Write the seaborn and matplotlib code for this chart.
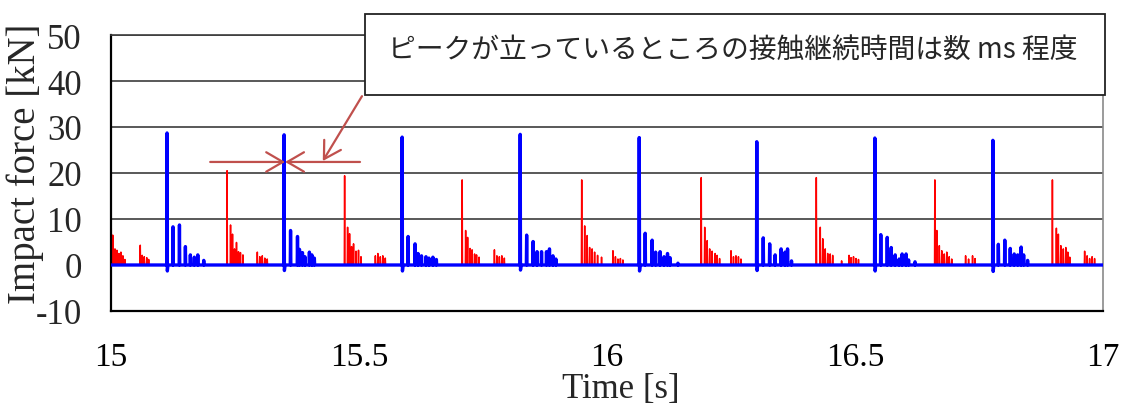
import matplotlib
matplotlib.use("Agg")
import matplotlib.pyplot as plt
import seaborn as sns
import pandas as pd
from matplotlib.patches import Rectangle

# ---------------- data ----------------
# Blue series: main impact peaks, their negative dip, and secondary rebounds
blue_main_t = [15.113, 15.349, 15.587, 15.825, 16.065, 16.302, 16.540, 16.778]
blue_main_h = [28.7, 28.3, 27.8, 28.4, 27.7, 26.8, 27.6, 27.1]
blue_dip_h = [-1.3, -1.2, -1.3, -1.1, -1.3, -1.2, -1.3, -1.4]
blue_sub_t = [15.125, 15.138, 15.150, 15.160, 15.168, 15.175, 15.187,
              15.362, 15.376, 15.380, 15.386, 15.391, 15.400, 15.405, 15.410,
              15.599, 15.613, 15.619, 15.626, 15.635, 15.641, 15.649, 15.656,
              15.838, 15.851, 15.859, 15.868, 15.878, 15.884, 15.891, 15.897,
              16.077, 16.091, 16.098, 16.107, 16.115, 16.122, 16.127, 16.143,
              16.315, 16.328, 16.339, 16.351, 16.359, 16.364, 16.372,
              16.552, 16.565, 16.573, 16.581, 16.589, 16.595, 16.603, 16.608, 16.621,
              16.789, 16.802, 16.813, 16.821, 16.828, 16.835, 16.840, 16.848]
blue_sub_h = [8.3, 8.7, 4.0, 2.2, 1.7, 2.2, 1.0,
              7.5, 6.2, 3.4, 2.7, 1.8, 2.8, 2.2, 1.5,
              6.2, 4.6, 2.5, 2.0, 1.8, 1.5, 1.7, 1.2,
              6.5, 5.1, 2.9, 2.9, 2.9, 3.5, 2.0, 1.3,
              6.9, 5.4, 2.8, 2.9, 1.8, 2.5, 1.6, 0.4,
              5.9, 4.6, 2.2, 3.5, 2.8, 3.5, 0.9,
              6.6, 6.0, 3.8, 2.2, 1.3, 2.4, 2.4, 1.1, 0.7,
              4.5, 5.4, 3.6, 2.4, 2.2, 3.9, 2.2, 1.0]

# Red series: main impact peaks and secondary rebounds
red_main_t = [15.234, 15.471, 15.708, 15.949, 16.190, 16.422, 16.661, 16.898]
red_main_h = [20.5, 19.4, 18.5, 18.5, 19.0, 19.0, 18.5, 18.5]
red_sub_t = [15.0005, 15.0035, 15.008, 15.012, 15.016, 15.020, 15.024, 15.028,
             15.059, 15.063, 15.067, 15.072, 15.076,
             15.241, 15.245, 15.249, 15.253, 15.257, 15.261, 15.266,
             15.295, 15.300, 15.305, 15.310, 15.315,
             15.477, 15.481, 15.485, 15.489, 15.494, 15.499, 15.504,
             15.533, 15.538, 15.543, 15.548, 15.553,
             15.715, 15.719, 15.724, 15.728, 15.733, 15.737, 15.742,
             15.773, 15.778, 15.783, 15.788, 15.793,
             15.955, 15.960, 15.965, 15.970, 15.975, 15.981, 15.989,
             16.012, 16.017, 16.022, 16.027, 16.032,
             16.197, 16.202, 16.207, 16.212, 16.218, 16.222, 16.227,
             16.250, 16.255, 16.260, 16.265, 16.270,
             16.430, 16.435, 16.440, 16.445, 16.450, 16.455, 16.473,
             16.488, 16.492, 16.497, 16.502, 16.507,
             16.665, 16.670, 16.675, 16.680, 16.685, 16.690, 16.695,
             16.723, 16.729, 16.737, 16.742,
             16.906, 16.910, 16.915, 16.920, 16.925, 16.929, 16.933,
             16.963, 16.968, 16.973, 16.978, 16.983]
red_sub_h = [8.0, 6.5, 3.5, 3.2, 2.5, 2.8, 2.0, 1.2,
             4.3, 2.1, 1.8, 1.6, 1.2,
             8.7, 6.7, 3.5, 4.9, 2.9, 2.7, 2.2,
             2.8, 1.8, 2.0, 1.5, 1.3,
             8.2, 6.8, 4.0, 4.6, 3.0, 3.2, 1.8,
             2.0, 2.5, 1.8, 2.0, 1.5,
             7.5, 6.0, 3.6, 3.3, 2.4, 2.2, 1.7,
             3.3, 2.0, 1.8, 2.0, 1.5,
             8.5, 6.4, 3.8, 3.5, 2.8, 2.1, 1.7,
             3.1, 1.8, 1.3, 1.4, 1.1,
             8.2, 5.3, 3.5, 3.0, 2.5, 2.1, 1.4,
             3.1, 1.8, 2.0, 1.8, 1.3,
             8.2, 5.7, 3.5, 2.5, 2.4, 2.1, 0.9,
             2.1, 1.6, 1.8, 1.4, 1.2,
             7.5, 4.2, 3.1, 2.4, 2.8, 1.8, 1.3,
             2.0, 1.3, 2.0, 1.4,
             8.0, 6.7, 4.2, 3.5, 3.8, 2.8, 1.7,
             3.0, 2.0, 1.4, 1.8, 1.4]

x_ticks = [15, 15.5, 16, 16.5, 17]
x_tick_labels = ["15", "15.5", "16", "16.5", "17"]
y_ticks = [-10, 0, 10, 20, 30, 40, 50]
x_label = "Time [s]"
y_label = "Impact force [kN]"
note_text = "ピークが立っているところの接触継続時間は数 ms 程度"


def build_signal(main_t, main_h, main_dip, sub_t, sub_h, t0=15.0, t1=17.0, w=0.0006):
    events = [(t, h, d) for t, h, d in zip(main_t, main_h, main_dip)]
    events += [(t, h, None) for t, h in zip(sub_t, sub_h)]
    events.sort()
    ts, fs = [t0], [0.0]
    for t, h, d in events:
        ts += [t - w, t]
        fs += [0.0, h]
        if d is None:
            ts.append(t + w)
            fs.append(0.0)
        else:
            ts += [t + w, t + 3 * w]
            fs += [d, 0.0]
    ts.append(t1)
    fs.append(0.0)
    return pd.DataFrame({"t": ts, "f": fs})


red_df = build_signal(red_main_t, red_main_h, [None] * len(red_main_t), red_sub_t, red_sub_h)
blue_df = build_signal(blue_main_t, blue_main_h, blue_dip_h, blue_sub_t, blue_sub_h)

# ---------------- figure ----------------
sns.set_style("white")
plt.rcParams["font.family"] = ["Liberation Serif", "Noto Sans CJK JP"]
plt.rcParams["axes.unicode_minus"] = False

W, H = 1121, 410
fig = plt.figure(figsize=(W / 100, H / 100), dpi=100)
L, R, T, B = 111, 1103, 36, 312
ax = fig.add_axes([L / W, 1 - B / H, (R - L) / W, (B - T) / H])

ax.yaxis.grid(True, color="#3c3c3c", lw=1.2, zorder=0)
ax.set_axisbelow(True)

sns.lineplot(data=red_df, x="t", y="f", sort=False, estimator=None,
             color="#FF0000", lw=1.1, ax=ax, zorder=2)
sns.lineplot(data=blue_df, x="t", y="f", sort=False, estimator=None,
             color="#0000FF", lw=2.4, ax=ax, zorder=3)

ax.set_xlim(15, 17)
ax.set_ylim(-10, 50)
ax.set_xticks(x_ticks)
ax.set_xticklabels(x_tick_labels)
ax.set_yticks(y_ticks)
ax.tick_params(axis="x", direction="in", length=8, width=1.5, pad=22, labelsize=24, colors="black")
ax.tick_params(axis="y", length=0, pad=21, labelsize=25)

for side in ["left", "bottom"]:
    ax.spines[side].set_color("black")
    ax.spines[side].set_linewidth(1.6)
ax.spines["top"].set_color("#3c3c3c")
ax.spines["top"].set_linewidth(1.2)
ax.spines["right"].set_color("#8a8a8a")
ax.spines["right"].set_linewidth(1.2)

ax.set_xlabel(x_label, fontsize=25, va="center")
ax.xaxis.set_label_coords((621 - L) / (R - L), (B - 390) / (B - T))
ax.set_ylabel(y_label, fontsize=28, va="center")
ax.yaxis.set_label_coords((25 - L) / (R - L), (B - 164) / (B - T))

# annotation arrows
ac = "#C0504D"
ap = dict(arrowstyle="->,head_length=0.6,head_width=0.35", color=ac, lw=1.6,
          shrinkA=0, shrinkB=0, mutation_scale=20)
ax.annotate("", xy=(15.351, 22.4), xytext=(15.200, 22.4), arrowprops=ap, annotation_clip=False)
ax.annotate("", xy=(15.351, 22.4), xytext=(15.502, 22.4), arrowprops=ap, annotation_clip=False)
ax.annotate("", xy=(15.427, 22.6), xytext=(15.506, 36.7), arrowprops=ap, annotation_clip=False)

# note box
box = Rectangle((365 / W, 1 - 96 / H), 740 / W, 81 / H, transform=fig.transFigure,
                facecolor="white", edgecolor="#222222", lw=1.3, zorder=5)
fig.add_artist(box)
fig.text(388 / W, 1 - 50 / H, note_text, ha="left", va="center", fontsize=20,
         family=["Noto Sans CJK JP", "DejaVu Sans"], zorder=6)

fig.savefig("out.png", dpi=100)
